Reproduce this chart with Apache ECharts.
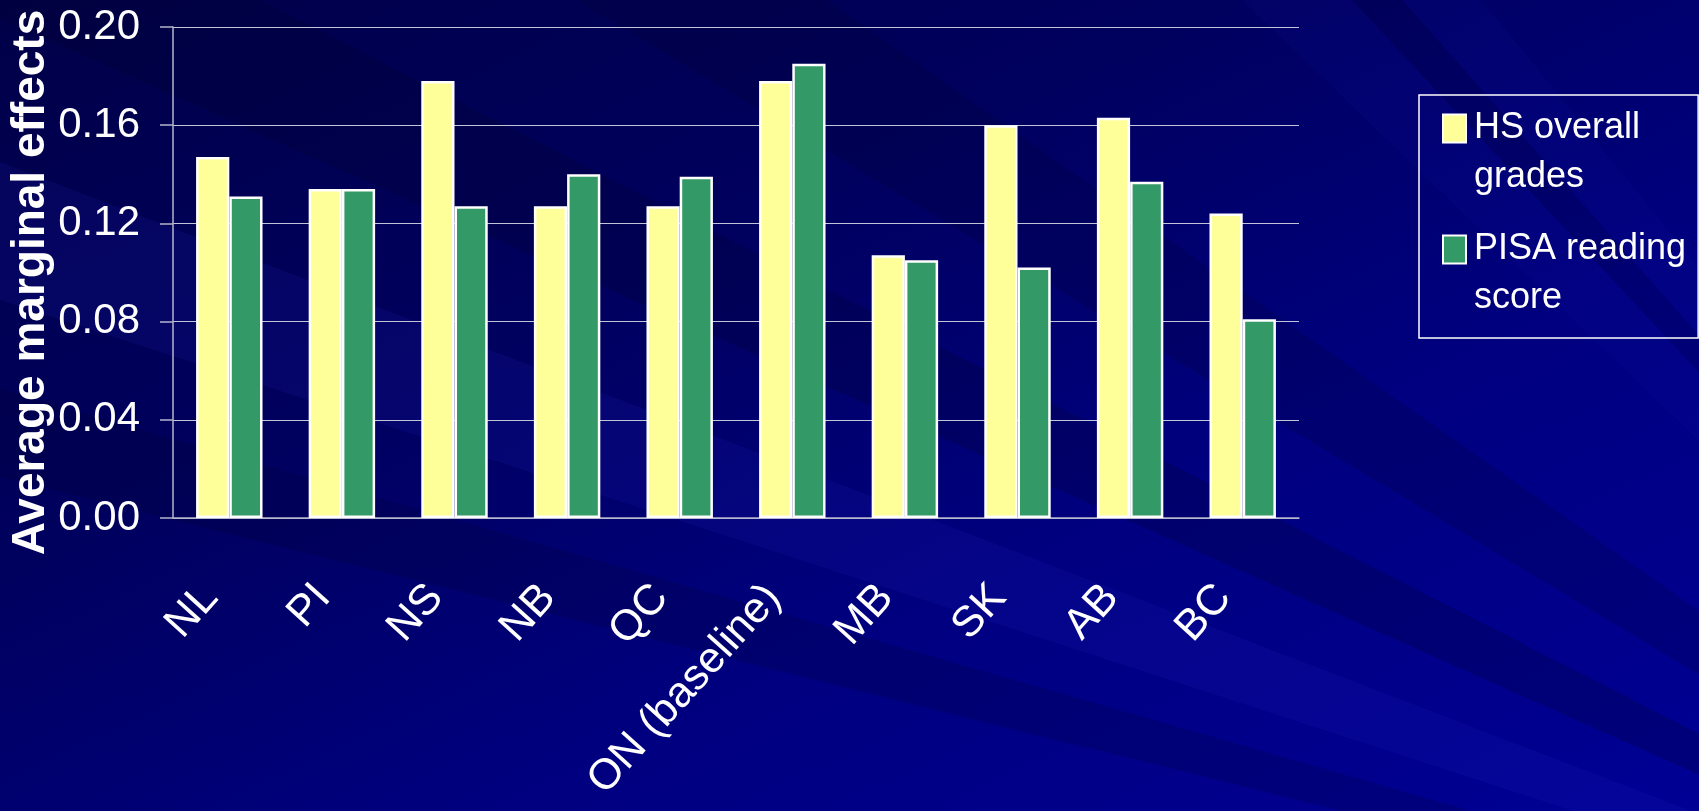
<!DOCTYPE html>
<html>
<head>
<meta charset="utf-8">
<script src="https://cdn.jsdelivr.net/npm/echarts@6/dist/echarts.min.js"></script>
<style>
  html, body { margin: 0; padding: 0; }
  #chart {
    width: 1699px; height: 811px;
    background:
      conic-gradient(from 270deg at 2340px 1060px,
        rgba(0,0,0,0) 0deg 14deg,
        rgba(0,0,40,0.18) 14deg 16deg,
        rgba(0,0,0,0) 16deg 18deg,
        rgba(40,40,200,0.12) 18deg 21deg,
        rgba(0,0,0,0) 21deg 24deg,
        rgba(0,0,40,0.22) 24deg 27deg,
        rgba(0,0,0,0) 27deg 31deg,
        rgba(0,0,40,0.18) 31deg 35deg,
        rgba(0,0,0,0) 35deg 44deg,
        rgba(20,20,170,0.1) 44deg 47deg,
        rgba(0,0,40,0.15) 47deg 48.5deg,
        rgba(20,20,170,0.1) 48.5deg 51deg,
        rgba(0,0,0,0) 51deg 360deg),
      linear-gradient(155deg, #000048 0%, #00005e 35%, #000080 65%, #000094 100%);
  }
</style>
</head>
<body>
<div id="chart"></div>
<script>
const categories = ['NL', 'PI', 'NS', 'NB', 'QC', 'ON (baseline)', 'MB', 'SK', 'AB', 'BC'];
const hsOverallGrades = [0.147, 0.134, 0.178, 0.127, 0.127, 0.178, 0.107, 0.160, 0.163, 0.124];
const pisaReadingScore = [0.131, 0.134, 0.127, 0.140, 0.139, 0.185, 0.105, 0.102, 0.137, 0.081];
const seriesNames = ['HS overall grades', 'PISA reading score'];
const legendLabels = ['HS overall\ngrades', 'PISA reading\nscore'];
const yAxisTitle = 'Average marginal effects';
const yMin = 0, yMax = 0.20, yStep = 0.04;

const font = "'Liberation Sans', Arial, Helvetica, sans-serif";
// legend swatch: square aligned with the first text line
const swatch = 'path://M0,0L0.01,0Z M0,10.5L23,10.5L23,38.5L0,38.5Z M0,98L0.01,98Z';

const chart = echarts.init(document.getElementById('chart'), null, { renderer: 'canvas' });
chart.setOption({
  backgroundColor: 'transparent',
  animation: false,
  grid: { left: 173, right: 400, top: 27, bottom: 293, containLabel: false, outerBoundsMode: 'none' },
  legend: {
    orient: 'vertical',
    left: 1419, top: 95,
    padding: [8, 12, 14, 23],
    itemGap: 21,
    itemWidth: 23, itemHeight: 98,
    borderColor: '#ffffff', borderWidth: 1.5,
    icon: swatch,
    itemStyle: { borderColor: '#ffffff', borderWidth: 2 },
    formatter: function (name) { return legendLabels[seriesNames.indexOf(name)]; },
    textStyle: { color: '#ffffff', fontSize: 36, lineHeight: 49, fontFamily: font, padding: [0, 0, 0, 3] },
    data: seriesNames
  },
  xAxis: {
    type: 'category',
    data: categories,
    axisLine: { show: true, lineStyle: { color: '#b4b4cc', width: 1.5 } },
    axisTick: { show: false },
    axisLabel: { rotate: 48, margin: 52, color: '#ffffff', fontSize: 43, fontFamily: font,
      interval: 0, padding: [0, 28, 0, 0] },
    splitLine: { show: false }
  },
  yAxis: {
    type: 'value',
    min: yMin, max: yMax, interval: yStep,
    name: yAxisTitle,
    nameLocation: 'middle',
    nameRotate: 90,
    nameGap: 119,
    nameMoveOverlap: false,
    nameTextStyle: { color: '#ffffff', fontSize: 46, fontWeight: 'bold', fontFamily: font, padding: [0, 20, 0, 0] },
    axisLine: { show: true, lineStyle: { color: '#b4b4cc', width: 1.5 } },
    axisTick: { show: true, length: 13, lineStyle: { color: '#b4b4cc', width: 1.5 } },
    axisLabel: { color: '#ffffff', fontSize: 42, fontFamily: font, margin: 33,
      formatter: function (v) { return v.toFixed(2); } },
    splitLine: { show: true, lineStyle: { color: '#c4c4d8', width: 1.2 } }
  },
  series: [
    {
      name: seriesNames[0], type: 'bar', data: hsOverallGrades,
      barGap: '0%', barCategoryGap: '41%',
      itemStyle: { color: '#FFFF99', borderColor: '#ffffff', borderWidth: 2.5 }
    },
    {
      name: seriesNames[1], type: 'bar', data: pisaReadingScore,
      barGap: '0%', barCategoryGap: '41%',
      itemStyle: { color: '#339966', borderColor: '#ffffff', borderWidth: 2.5 }
    }
  ]
});
</script>
</body>
</html>
